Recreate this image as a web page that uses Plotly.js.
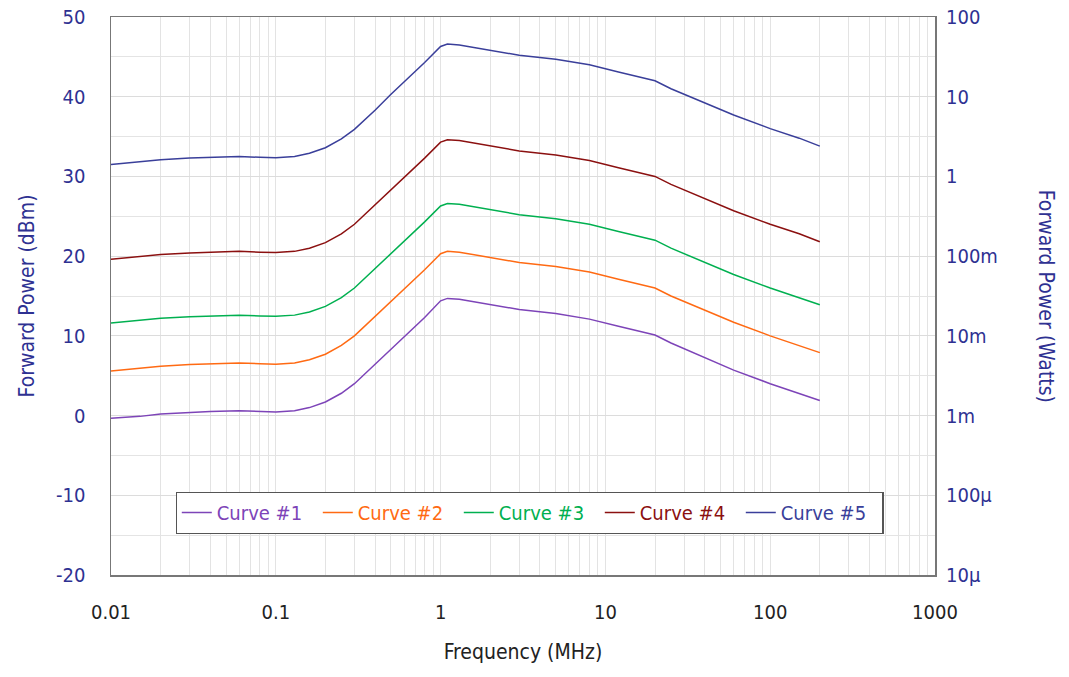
<!DOCTYPE html>
<html>
<head>
<meta charset="utf-8">
<script src="https://cdn.plot.ly/plotly-3.0.1.min.js"></script>
<style>html,body{margin:0;padding:0;background:#fff;}#chart{width:1069px;height:677px;}</style>
</head>
<body>
<div id="chart"></div>
<script>
// Frequency (MHz)
const freqs = [0.01, 0.015, 0.02, 0.03, 0.04, 0.06, 0.08, 0.1, 0.13, 0.16, 0.2, 0.25, 0.3, 0.4, 0.5, 0.65, 0.8, 1.0, 1.1, 1.3, 1.6, 2, 3, 5, 8, 12, 20, 25, 30, 40, 60, 100, 150, 200];
// Forward power (dBm)
const curve1 = [-0.35, -0.1, 0.2, 0.4, 0.5, 0.6, 0.5, 0.45, 0.6, 1.0, 1.7, 2.8, 4.0, 6.4, 8.3, 10.5, 12.3, 14.4, 14.7, 14.6, 14.3, 13.9, 13.3, 12.8, 12.1, 11.2, 10.1, 9.1, 8.4, 7.2, 5.7, 4.0, 2.8, 1.9];
const curve2 = [5.6, 5.9, 6.2, 6.4, 6.5, 6.6, 6.5, 6.45, 6.6, 7.0, 7.7, 8.8, 10.0, 12.4, 14.3, 16.5, 18.3, 20.3, 20.6, 20.5, 20.2, 19.8, 19.2, 18.7, 18.0, 17.1, 16.0, 15.0, 14.3, 13.2, 11.7, 10.0, 8.8, 7.9];
const curve3 = [11.6, 11.9, 12.2, 12.4, 12.5, 12.6, 12.5, 12.45, 12.6, 13.0, 13.7, 14.8, 16.0, 18.4, 20.3, 22.5, 24.3, 26.3, 26.6, 26.5, 26.2, 25.8, 25.2, 24.7, 24.0, 23.1, 22.0, 21.0, 20.3, 19.2, 17.7, 16.0, 14.8, 13.9];
const curve4 = [19.6, 19.9, 20.2, 20.4, 20.5, 20.6, 20.5, 20.45, 20.6, 21.0, 21.7, 22.8, 24.0, 26.4, 28.3, 30.5, 32.3, 34.3, 34.6, 34.5, 34.2, 33.8, 33.2, 32.7, 32.0, 31.1, 30.0, 29.0, 28.3, 27.2, 25.7, 24.0, 22.8, 21.8];
const curve5 = [31.5, 31.8, 32.1, 32.3, 32.4, 32.5, 32.4, 32.35, 32.5, 32.9, 33.6, 34.7, 35.9, 38.3, 40.3, 42.5, 44.3, 46.3, 46.6, 46.5, 46.2, 45.8, 45.2, 44.7, 44.0, 43.1, 42.0, 41.0, 40.3, 39.2, 37.7, 36.0, 34.8, 33.8];
const seriesNames = ["Curve #1", "Curve #2", "Curve #3", "Curve #4", "Curve #5"];
const seriesColors = ["#7d44b8", "#ff6a13", "#00b050", "#8b1010", "#3a3f9a"];
// Right axis (Watts) tick labels
const wattVals = [1e-5, 1e-4, 1e-3, 1e-2, 1e-1, 1, 10, 100];
const wattText = ["10µ", "100µ", "1m", "10m", "100m", "1", "10", "100"];
// Left axis (dBm) tick labels
const dbmTicks = [-20, -10, 0, 10, 20, 30, 40, 50];
const dbmText = ["-20", "-10", "0", "10", "20", "30", "40", "50"];
// X axis decade labels
const xDecades = [0.01, 0.1, 1, 10, 100, 1000];
const xDecadeText = ["0.01", "0.1", "1", "10", "100", "1000"];
const xMinorMult = [2, 3, 4, 5, 6, 7, 8, 9];

const xTickVals = [], xTickText = [];
xDecades.forEach((d, i) => {
  xTickVals.push(d); xTickText.push(xDecadeText[i]);
  if (i < xDecades.length - 1) xMinorMult.forEach(m => { xTickVals.push(d * m); xTickText.push(''); });
});

const FONT = '"DejaVu Sans Condensed", "DejaVu Sans", sans-serif';
const NAVY = '#2e3192';
const allCurves = [curve1, curve2, curve3, curve4, curve5];
const fnt = (size, color) => ({family: FONT, size: size, color: color, stretch: 'condensed'});

const traces = allCurves.map((c, i) => ({
  x: freqs, y: c, type: 'scatter', mode: 'lines',
  name: '<span style="color:' + seriesColors[i] + '">' + seriesNames[i] + '</span>',
  line: {color: seriesColors[i], width: 1.5},
  xaxis: 'x', yaxis: 'y'
}));
traces.push({x: [], y: [], type: 'scatter', mode: 'lines', yaxis: 'y2', showlegend: false, hoverinfo: 'skip'});

const layout = {
  width: 1069, height: 677,
  margin: {l: 111, r: 134, t: 17, b: 102},
  paper_bgcolor: '#fff', plot_bgcolor: '#fff',
  font: fnt(20, NAVY),
  showlegend: true,
  legend: {
    orientation: 'h', x: 0.508, xanchor: 'center', y: 0.149, yanchor: 'top',
    bgcolor: '#fff', bordercolor: '#555', borderwidth: 1.2,
    font: fnt(20, NAVY),
    entrywidth: 96, itemwidth: 30
  },
  xaxis: {
    type: 'log', range: [-2, 3],
    tickmode: 'array', tickvals: xTickVals, ticktext: xTickText,
    tickfont: fnt(20, '#222'),
    ticks: '', ticklabelstandoff: 18,
    showgrid: true, gridcolor: '#e3e3e3', gridwidth: 1,
    showline: true, linecolor: '#777', linewidth: 1.5, mirror: true,
    zeroline: false,
    title: {text: 'Frequency (MHz)', font: fnt(21, '#222'), standoff: 22}
  },
  yaxis: {
    range: [-20, 50], tickmode: 'array', tickvals: dbmTicks, ticktext: dbmText,
    tickfont: fnt(20, NAVY),
    ticks: '', ticklabelstandoff: 20,
    showgrid: true, gridcolor: '#dcdcdc', gridwidth: 1,
    minor: {dtick: 5, showgrid: true, gridcolor: '#e4e4e4', ticks: ''},
    showline: true, linecolor: '#777', linewidth: 1.5, mirror: true,
    zeroline: false,
    title: {text: 'Forward Power (dBm)', font: fnt(21, NAVY), standoff: 16}
  },
  yaxis2: {
    type: 'log', range: [-5, 2], overlaying: 'y', side: 'right',
    tickmode: 'array', tickvals: wattVals, ticktext: wattText,
    tickfont: fnt(20, NAVY),
    ticks: '', ticklabelstandoff: 10,
    showgrid: false, zeroline: false, showline: false
  },
  annotations: [{
    text: 'Forward Power (Watts)', xref: 'paper', yref: 'paper',
    x: 1.152, y: 0.5, textangle: 90, showarrow: false,
    font: fnt(21, NAVY)
  }]
};

Plotly.newPlot('chart', traces, layout, {displayModeBar: false, staticPlot: true});
</script>
</body>
</html>
